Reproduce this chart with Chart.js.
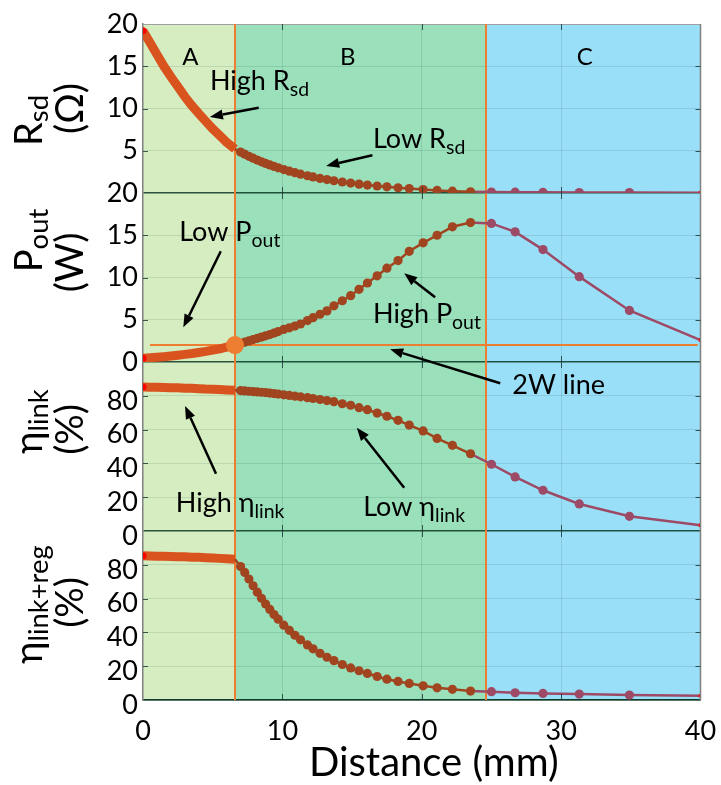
<!DOCTYPE html>
<html>
<head>
<meta charset="utf-8">
<script src="https://cdn.jsdelivr.net/npm/chart.js@4.4.1/dist/chart.umd.min.js"></script>
<style>
  html, body { margin: 0; padding: 0; background: #fff; }
  #wrap { width: 721px; height: 785px; }
</style>
</head>
<body>
<div id="wrap"><canvas id="chart" width="721" height="785"></canvas></div>
<script>
// distance samples (mm) shared by all four panels
const distance = [
  0, 0.5, 1, 1.5, 2, 2.5, 3, 3.5, 4, 4.5, 5, 5.5, 6, 6.6,
  7.0, 7.3, 7.6, 7.9, 8.2, 8.5, 8.8, 9.1, 9.4, 9.7, 10.1, 10.5, 10.9, 11.3, 11.8, 12.2,
  12.7, 13.2, 13.7, 14.3, 14.9, 15.5, 16.1, 16.8, 17.5, 18.3, 19.1, 20.1, 21.1, 22.2, 23.5,
  25.0, 26.7, 28.7, 31.3, 34.9, 40
];
const rsd = [
  19.2, 17.8, 16.4, 15.0, 13.75, 12.6, 11.4, 10.35, 9.4, 8.5, 7.6, 6.8, 6.0, 5.2,
  4.84, 4.59, 4.34, 4.12, 3.9, 3.69, 3.5, 3.32, 3.14, 2.98, 2.77, 2.58, 2.4, 2.23, 2.04, 1.9,
  1.73, 1.59, 1.45, 1.3, 1.17, 1.05, 0.94, 0.83, 0.73, 0.62, 0.52, 0.4, 0.3, 0.22, 0.15,
  0.12, 0.1, 0.08, 0.06, 0.05, 0.04
];
const pout = [
  0.45, 0.5, 0.56, 0.63, 0.71, 0.8, 0.9, 1.0, 1.12, 1.25, 1.4, 1.56, 1.75, 2.0,
  2.2, 2.35, 2.5, 2.65, 2.8, 2.95, 3.1, 3.25, 3.42, 3.6, 3.85, 4.05, 4.25, 4.5, 4.9, 5.25,
  5.65, 6.05, 6.65, 7.25, 7.85, 8.6, 9.35, 10.2, 11.1, 12.0, 13.1, 14.1, 15.0, 16.0, 16.5,
  16.4, 15.4, 13.3, 10.1, 6.1, 2.6
];
const etaLink = [
  85.2, 85.1, 85.0, 84.9, 84.8, 84.7, 84.5, 84.4, 84.2, 84.0, 83.9, 83.7, 83.5, 83.3,
  83.1, 82.9, 82.7, 82.5, 82.3, 82.1, 81.9, 81.6, 81.3, 81.0, 80.6, 80.2, 79.8, 79.4, 78.9, 78.4,
  77.8, 77.2, 76.5, 75.3, 74.4, 73.0, 71.8, 69.8, 67.9, 65.5, 62.7, 59.2, 54.8, 50.7, 45.7,
  39.5, 32.0, 24.1, 16.0, 8.7, 3.4
];
const etaLinkReg = [
  85.3, 85.2, 85.1, 85.0, 84.9, 84.8, 84.7, 84.5, 84.4, 84.2, 84.0, 83.8, 83.6, 83.3,
  79.0, 75.5, 71.6, 67.6, 63.8, 60.2, 56.8, 53.6, 50.6, 47.8, 44.3, 41.2, 38.3, 35.6, 32.6, 30.3,
  27.6, 25.3, 23.3, 21.0, 19.0, 17.3, 15.7, 13.9, 12.3, 11.0, 9.8, 8.4, 7.2, 6.3, 5.3,
  4.9, 4.3, 3.9, 3.5, 2.9, 2.5
];

const regionEdges = [0, 6.6, 24.6, 40];
const regionNames = ['A', 'B', 'C'];
const regionLabelX = [3.4, 14.7, 31.7];
const twoWatt = 2;
const twoWattSpan = [0.5, 39.8];
const xTitle = 'Distance (mm)';

const FONT = 'Lato';
const regionFill = ['#d5edc0', '#9ae0bb', '#9adff8'];
const markColor = ['#d9531e', '#a0451f', '#9c4a66'];
const ORANGE = '#ed7d31';
const DARK = 'rgba(10,55,35,0.85)';
const LIGHT = 'rgba(0,40,30,0.11)';
const FRAME = '#808080';
const SUB = 0.72;

function regionOf(d) {
  if (d <= regionEdges[1]) return 0;
  if (d <= regionEdges[2]) return 1;
  return 2;
}

// text placed at [x, baseline] on a panel axis, arrows run tail -> head
const notes = [
  { parts: [['High R'], ['sd', 1]], axis: 'yR', x: 4.8, y: 12.2 },
  { parts: [['Low R'], ['sd', 1]], axis: 'yR', x: 16.5, y: 5.3 },
  { parts: [['Low P'], ['out', 1]], axis: 'yP', x: 2.6, y: 14.3 },
  { parts: [['High P'], ['out', 1]], axis: 'yP', x: 16.5, y: 4.6 },
  { parts: [['2W line']], axis: 'yE1', x: 26.5, y: 81.2 },
  { parts: [['High η'], ['link', 1]], axis: 'yE1', x: 2.35, y: 11.4 },
  { parts: [['Low η'], ['link', 1]], axis: 'yE1', x: 15.8, y: 8.9 }
];
const arrows = [
  [[8.3, 10.1, 'yR'], [4.8, 9.0, 'yR']],
  [[16.46, 4.47, 'yR'], [13.14, 3.21, 'yR']],
  [[5.58, 13.1, 'yP'], [2.89, 4.1, 'yP']],
  [[20.96, 7.65, 'yP'], [18.74, 10.5, 'yP']],
  [[25.63, 87.4, 'yE1'], [17.73, 1.5, 'yP']],
  [[5.24, 33.9, 'yE1'], [3.02, 74.0, 'yE1']],
  [[18.74, 25.6, 'yE1'], [15.34, 61.1, 'yE1']]
];
// axis titles: panel, lines, shift of each line from panel centre
const yTitles = [
  { axis: 'yR', lines: [[['R'], ['sd', 1]], [['(Ω)']]], shift: [12, 0] },
  { axis: 'yP', lines: [[['P'], ['out', 1]], [['(W)']]], shift: [-37, -15] },
  { axis: 'yE1', lines: [[['η'], ['link', 1]], [['(%)']]], shift: [-25, -17] },
  { axis: 'yE2', lines: [[['η'], ['link+reg', 1]], [['(%)']]], shift: [-11, -13] }
];
const titleBaseX = [42, 83];

function richWidth(ctx, parts, size) {
  let w = 0;
  for (const [t, sub] of parts) {
    ctx.font = `${sub ? size * SUB : size}px ${FONT}`;
    w += ctx.measureText(t).width;
  }
  return w;
}
function drawRich(ctx, parts, x, y, size, drop) {
  let cx = x;
  for (const [t, sub] of parts) {
    ctx.font = `${sub ? size * SUB : size}px ${FONT}`;
    ctx.fillText(t, cx, sub ? y + size * drop : y);
    cx += ctx.measureText(t).width;
  }
}
function drawArrow(ctx, x1, y1, x2, y2) {
  const ang = Math.atan2(y2 - y1, x2 - x1);
  const len = 13, half = 5;
  const bx = x2 - len * Math.cos(ang), by = y2 - len * Math.sin(ang);
  ctx.beginPath();
  ctx.moveTo(x1, y1);
  ctx.lineTo(bx, by);
  ctx.stroke();
  ctx.beginPath();
  ctx.moveTo(x2, y2);
  ctx.lineTo(bx + half * Math.sin(ang), by - half * Math.cos(ang));
  ctx.lineTo(bx - half * Math.sin(ang), by + half * Math.cos(ang));
  ctx.closePath();
  ctx.fill();
}

const decor = {
  id: 'decor',
  beforeDraw(chart) {
    const { ctx, chartArea: a, scales } = chart;
    ctx.save();
    for (let i = 0; i < 3; i++) {
      const l = scales.x.getPixelForValue(regionEdges[i]);
      const r = scales.x.getPixelForValue(regionEdges[i + 1]);
      ctx.fillStyle = regionFill[i];
      ctx.fillRect(l, a.top, r - l, a.bottom - a.top);
    }
    ctx.restore();
  },
  beforeDatasetsDraw(chart) {
    const { ctx, chartArea: a, scales } = chart;
    ctx.save();
    ctx.strokeStyle = ORANGE;
    ctx.lineWidth = 2;
    [regionEdges[1], regionEdges[2]].forEach(v => {
      const px = Math.round(scales.x.getPixelForValue(v));
      ctx.beginPath();
      ctx.moveTo(px, a.top);
      ctx.lineTo(px, a.bottom);
      ctx.stroke();
    });
    ctx.restore();
  },
  afterDraw(chart) {
    const { ctx, chartArea: a, scales } = chart;
    ctx.save();
    // right frame
    ctx.strokeStyle = FRAME;
    ctx.lineWidth = 1.5;
    ctx.beginPath();
    ctx.moveTo(a.right, a.top);
    ctx.lineTo(a.right, a.bottom);
    ctx.stroke();
    // inward ticks
    ctx.strokeStyle = 'rgba(20,50,50,0.8)';
    ctx.lineWidth = 1;
    ['yR', 'yP', 'yE1', 'yE2'].forEach(k => {
      const s = scales[k];
      s.ticks.forEach(t => {
        if (t.value === s.min || t.value === s.max) return;
        const y = Math.round(s.getPixelForValue(t.value)) + 0.5;
        ctx.beginPath();
        ctx.moveTo(a.left, y); ctx.lineTo(a.left + 5, y);
        ctx.moveTo(a.right - 5, y); ctx.lineTo(a.right, y);
        ctx.stroke();
      });
      scales.x.ticks.forEach(t => {
        if (t.value === 0 || t.value === 40) return;
        const x = Math.round(scales.x.getPixelForValue(t.value)) + 0.5;
        ctx.beginPath();
        ctx.moveTo(x, s.top); ctx.lineTo(x, s.top + 6);
        ctx.moveTo(x, s.bottom - 6); ctx.lineTo(x, s.bottom);
        ctx.stroke();
      });
    });
    // region letters
    ctx.fillStyle = '#000';
    ctx.textBaseline = 'alphabetic';
    ctx.textAlign = 'center';
    ctx.font = `24px ${FONT}`;
    regionNames.forEach((n, i) => {
      ctx.fillText(n, scales.x.getPixelForValue(regionLabelX[i]), scales.yR.getPixelForValue(15.2));
    });
    // x title, a little right of centre as in the figure
    ctx.font = `40px ${FONT}`;
    ctx.fillText(xTitle, (a.left + a.right) / 2 + 12, 776);
    // annotations
    ctx.textAlign = 'left';
    notes.forEach(n => {
      drawRich(ctx, n.parts, scales.x.getPixelForValue(n.x), scales[n.axis].getPixelForValue(n.y), 27, 0.22);
    });
    ctx.strokeStyle = '#000';
    ctx.lineWidth = 2.5;
    arrows.forEach(([p, q]) => {
      drawArrow(ctx,
        scales.x.getPixelForValue(p[0]), scales[p[2]].getPixelForValue(p[1]),
        scales.x.getPixelForValue(q[0]), scales[q[2]].getPixelForValue(q[1]));
    });
    // rotated axis titles
    yTitles.forEach(t => {
      const s = scales[t.axis];
      const mid = (s.top + s.bottom) / 2;
      t.lines.forEach((parts, i) => {
        const w = richWidth(ctx, parts, 38);
        ctx.save();
        ctx.translate(titleBaseX[i], mid + t.shift[i]);
        ctx.rotate(-Math.PI / 2);
        drawRich(ctx, parts, -w / 2, 0, 38, 0.15);
        ctx.restore();
      });
    });
    ctx.restore();
  }
};

function seriesDataset(values, yAxisID) {
  const last = distance.length - 1;
  return {
    data: distance.map((d, i) => ({ x: d, y: values[i] })),
    yAxisID,
    order: 1,
    borderColor: markColor[1],
    borderWidth: 2.5,
    pointStyle: c => (c.dataIndex === last ? 'rect' : 'circle'),
    pointRadius: c => {
      if (c.dataIndex === 0) return 3.5;
      if (c.dataIndex === last) return 2.5;
      return regionOf(distance[c.dataIndex]) === 0 ? 0 : 4.6;
    },
    pointBackgroundColor: c => {
      if (c.dataIndex === 0 || c.dataIndex === last) return '#ff0000';
      return markColor[regionOf(distance[c.dataIndex])];
    },
    pointBorderWidth: 0,
    segment: {
      borderColor: c => markColor[regionOf(distance[c.p1DataIndex])],
      borderWidth: c => (regionOf(distance[c.p1DataIndex]) === 0 ? 9 : 2.5)
    }
  };
}

function panelAxis(max, step, labelled, isTop, offset) {
  return {
    type: 'linear',
    position: 'left',
    stack: 'panels',
    stackWeight: 1,
    min: 0,
    max,
    ticks: {
      stepSize: step,
      autoSkip: false,
      color: '#000',
      padding: 5,
      labelOffset: offset,
      font: { family: FONT, size: 27 },
      callback: v => (labelled.includes(v) ? String(v) : '')
    },
    grid: {
      drawTicks: false,
      color: c => {
        if (c.tick.value === 0) return DARK;
        if (c.tick.value === max) return isTop ? '#a0a0a0' : 'rgba(0,0,0,0)';
        return LIGHT;
      },
      lineWidth: c => (c.tick.value === 0 ? 1.5 : 1)
    },
    border: { display: true, color: FRAME, width: 1.5 },
    afterFit: s => { s.width = 143; }
  };
}

new Chart(document.getElementById('chart'), {
  type: 'line',
  data: {
    datasets: [
      {
        data: [{ x: regionEdges[1], y: twoWatt }],
        yAxisID: 'yP',
        order: 0,
        showLine: false,
        pointRadius: 9,
        pointBackgroundColor: ORANGE,
        pointBorderWidth: 0
      },
      seriesDataset(rsd, 'yR'),
      seriesDataset(pout, 'yP'),
      seriesDataset(etaLink, 'yE1'),
      seriesDataset(etaLinkReg, 'yE2'),
      {
        data: twoWattSpan.map(d => ({ x: d, y: twoWatt })),
        yAxisID: 'yP',
        order: 2,
        borderColor: ORANGE,
        borderWidth: 2,
        pointRadius: 0
      }
    ]
  },
  options: {
    responsive: false,
    animation: false,
    devicePixelRatio: 1,
    layout: { padding: { top: 24, right: 20.5, left: 0, bottom: 0 } },
    plugins: { legend: { display: false }, tooltip: { enabled: false } },
    scales: {
      x: {
        type: 'linear',
        min: 0,
        max: 40,
        ticks: { stepSize: 10, color: '#000', padding: 15, font: { family: FONT, size: 27 } },
        grid: {
          drawTicks: false,
          color: c => (c.tick.value === 0 || c.tick.value === 40 ? 'rgba(0,0,0,0)' : LIGHT)
        },
        border: { display: true, color: DARK, width: 1.5 },
        afterFit: s => {
          s.height = 85;
          s.paddingLeft = 0;
          s.paddingRight = 0;
        }
      },
      yE2: panelAxis(100, 20, [0, 20, 40, 60, 80], false, 5),
      yE1: panelAxis(100, 20, [0, 20, 40, 60, 80], false, 5),
      yP: panelAxis(20, 5, [0, 5, 10, 15, 20], false, 0),
      yR: panelAxis(20, 5, [5, 10, 15, 20], true, 0)
    }
  },
  plugins: [decor]
});
</script>
</body>
</html>
